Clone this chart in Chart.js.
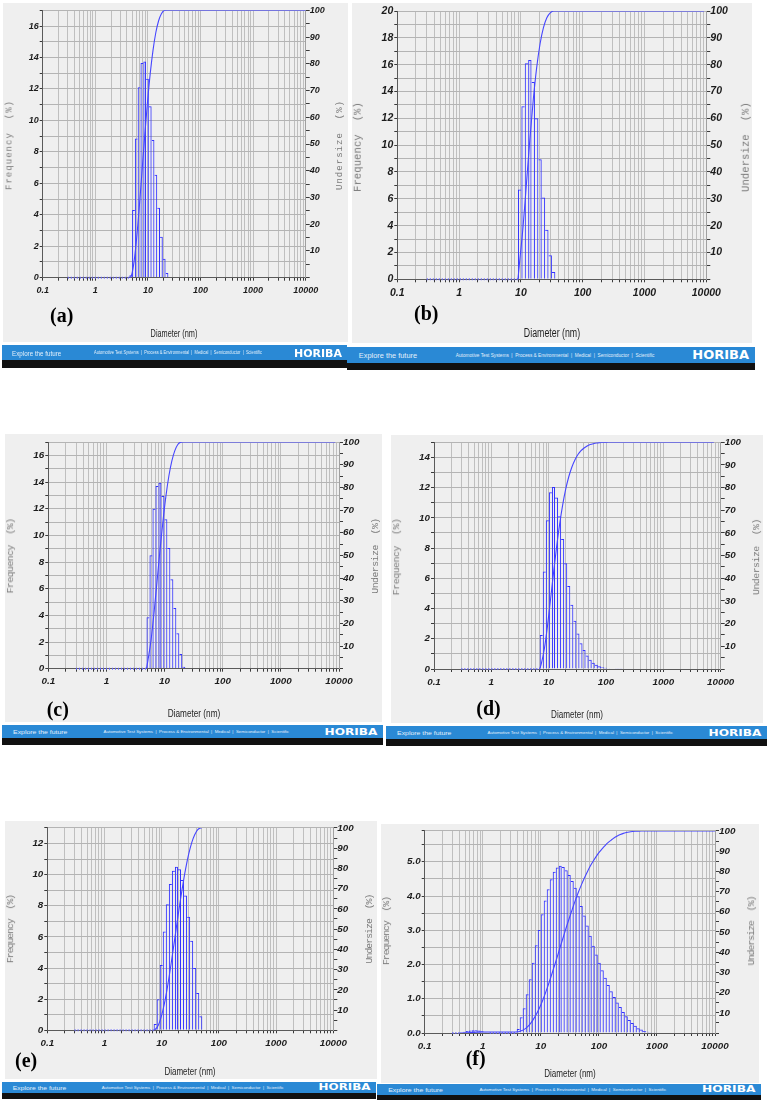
<!DOCTYPE html>
<html>
<head>
<meta charset="utf-8">
<title>Particle size distributions (a)-(f)</title>
<script src="https://cdn.jsdelivr.net/npm/chart.js@4.4.1/dist/chart.umd.min.js"></script>
<style>
  html, body { margin: 0; padding: 0; background: #fff; }
  body { position: relative; width: 768px; height: 1101px; overflow: hidden; }
  .panel { position: absolute; background: #efefef; }
  .panel canvas { position: absolute; left: 0; top: 0; }
  .txt { position: absolute; white-space: pre; line-height: 1; }
  .ytitle { font-family: "Liberation Mono", "DejaVu Sans Mono", monospace; color: #7a7a7a; }
  .xtitle { font-family: "Liberation Sans Narrow", "Liberation Sans", sans-serif; color: #1e1e1e; }
  .tag { font-family: "Liberation Serif", "Times New Roman", serif; font-weight: bold; color: #000; font-size: 20px; }
  .foot { position: absolute; background: #111; overflow: hidden; }
  .band { position: absolute; left: 0; top: 0; width: 345px; height: 15px; background: #2a89d5; transform-origin: 0 0; }
  .band span { position: absolute; top: 50%; white-space: pre; line-height: 1; color: #fff; transform-origin: 0 50%; }
  .explore { left: 10px; font: 7px "Liberation Sans", sans-serif; color: #e4f0fb !important; }
  .lines { left: 92px; font: 8.8px "Liberation Sans", sans-serif; color: #e4f0fb !important; }
  .brand { left: 292px; font: bold 11px "DejaVu Sans", sans-serif; }
</style>
</head>
<body>
<script>
// log-scale ticks: decades get a label, 2..9 are grid only
const xLabels = [0.1, 1, 10, 100, 1000, 10000];
const underLabels = [10, 20, 30, 40, 50, 60, 70, 80, 90, 100];

// (a)
const diamA = [4.71, 5.32, 6.01, 6.80, 7.68, 8.68, 9.81, 11.08, 12.52, 14.15, 15.99, 18.07, 20.42, 23.07];
const freqA = [0.15, 4.3, 8.85, 12.1, 13.65, 13.75, 12.65, 10.9, 8.75, 6.55, 4.45, 2.6, 1.2, 0.3];
const underA = [0.2, 4.5, 13.3, 25.4, 39.0, 52.8, 65.5, 76.4, 85.1, 91.7, 96.1, 98.7, 99.9, 100];
const curveEndsA = [4.43, 10000];
const baseA = [[0.3, 4.43]];
const freqTicksA = [0, 2, 4, 6, 8, 10, 12, 14, 16];

// (b)
const diamB = [9.55, 10.84, 12.30, 13.96, 15.84, 17.98, 20.40, 23.16, 26.28, 29.82, 33.85];
const freqB = [6.7, 12.9, 16.1, 16.35, 14.7, 12.0, 8.95, 6.1, 3.7, 1.8, 0.55];
const underB = [6.7, 19.6, 35.7, 52.1, 66.8, 78.8, 87.7, 93.8, 97.5, 99.3, 100];
const curveEndsB = [8.96, 9200];
const baseB = [[0.3, 8.96]];
const freqTicksB = [0, 2, 4, 6, 8, 10, 12, 14, 16, 18, 20];

// (c)
const diamC = [5.18, 5.83, 6.56, 7.39, 8.31, 9.36, 10.53, 11.85, 13.34, 15.01, 16.90, 19.02, 21.40];
const freqC = [3.85, 8.5, 12.0, 13.7, 13.95, 12.95, 11.2, 9.05, 6.7, 4.55, 2.65, 1.1, 0.15];
const underC = [3.8, 12.3, 24.3, 38.0, 51.9, 64.8, 76.0, 85.0, 91.7, 96.2, 98.9, 99.9, 100];
const curveEndsC = [4.88, 8600];
const baseC = [[0.3, 4.88]];
const freqTicksC = [0, 2, 4, 6, 8, 10, 12, 14, 16];

// (d)
const diamD = [7.41, 8.38, 9.48, 10.72, 12.12, 13.70, 15.49, 17.52, 19.81, 22.40, 25.33, 28.65, 32.39, 36.63,
  41.42, 46.84, 52.97, 59.90, 67.73, 76.59, 86.61, 97.93, 110.7, 125.2, 141.6, 160.1, 181.1];
const freqD = [2.25, 6.45, 9.85, 11.7, 12.05, 11.35, 10.1, 8.6, 7.0, 5.5, 4.25, 3.2, 2.35, 1.7,
  1.25, 0.9, 0.62, 0.42, 0.28, 0.19, 0.12, 0.08, 0.05, 0.03, 0.02, 0.01, 0.01];
const underD = [2.2, 8.7, 18.5, 30.2, 42.2, 53.6, 63.7, 72.3, 79.3, 84.8, 89.0, 92.2, 94.6, 96.3,
  97.5, 98.4, 99.0, 99.4, 99.7, 99.85, 99.9, 99.95, 100, 100, 100, 100, 100];
const curveEndsD = [6.97, 7600];
const baseD = [[0.3, 6.97]];
const freqTicksD = [0, 2, 4, 6, 8, 10, 12, 14];

// (e)
const diamE = [7.68, 8.68, 9.81, 11.09, 12.54, 14.17, 16.02, 18.10, 20.46, 23.13, 26.14, 29.55, 33.40, 37.75, 42.67, 48.23];
const freqE = [0.4, 2.0, 4.2, 6.35, 8.1, 9.4, 10.25, 10.5, 10.35, 9.65, 8.65, 7.3, 5.75, 4.0, 2.4, 0.9];
const underE = [0.4, 2.4, 6.6, 12.9, 21.0, 30.4, 40.6, 51.1, 61.4, 71.0, 79.6, 86.9, 92.6, 96.6, 99.1, 100];
const curveEndsE = [7.22, 50];
const baseE = [[0.3, 7.22]];
const freqTicksE = [0, 2, 4, 6, 8, 10, 12];

// (f) small population near 1 nm, empty bins, then the main mode
const diamF = [0.425, 0.479, 0.539, 0.607, 0.684, 0.771, 0.868, 0.978, 1.101, 1.241,
  1.398, 1.575, 1.774, 1.999, 2.251, 2.536, 2.857, 3.218, 3.625,
  4.076, 4.592, 5.173, 5.827, 6.564, 7.395, 8.330, 9.384, 10.57, 11.91,
  13.41, 15.11, 17.02, 19.18, 21.60, 24.34, 27.41, 30.88, 34.79, 39.19,
  44.15, 49.73, 56.02, 63.11, 71.09, 80.08, 90.22, 101.6, 114.5, 129.0,
  145.3, 163.7, 184.4, 207.7, 234.0, 263.6, 296.9, 334.5, 376.8, 424.4,
  478.1, 538.6, 606.7, 683.5, 770.0, 867.4];
const freqF = [0.02, 0.04, 0.06, 0.07, 0.08, 0.08, 0.07, 0.05, 0.03, 0.02,
  0, 0, 0, 0, 0, 0, 0, 0, 0,
  0.12, 0.46, 0.72, 1.13, 1.57, 2.05, 2.56, 3.01, 3.47, 3.87,
  4.2, 4.49, 4.71, 4.83, 4.88, 4.85, 4.75, 4.61, 4.44, 4.24,
  3.99, 3.71, 3.43, 3.14, 2.84, 2.55, 2.29, 2.05, 1.83, 1.61,
  1.40, 1.22, 1.05, 0.89, 0.76, 0.61, 0.49, 0.38, 0.29, 0.21,
  0.14, 0.10, 0.06, 0.04, 0.02, 0.01];
const underF = [0.02, 0.06, 0.12, 0.19, 0.27, 0.35, 0.42, 0.47, 0.5, 0.52,
  0.52, 0.52, 0.52, 0.52, 0.52, 0.52, 0.52, 0.52, 0.52,
  0.6, 1.1, 1.8, 2.9, 4.5, 6.6, 9.1, 12.1, 15.6, 19.5,
  23.7, 28.2, 32.9, 37.7, 42.6, 47.4, 52.2, 56.8, 61.2, 65.5,
  69.5, 73.2, 76.6, 79.7, 82.6, 85.1, 87.4, 89.5, 91.3, 92.9,
  94.3, 95.5, 96.6, 97.5, 98.2, 98.8, 99.2, 99.5, 99.7, 99.85,
  99.9, 99.95, 100, 100, 100, 100];
const curveEndsF = [0.40, 10000];
const baseF = [[0.3, 0.40], [1.32, 3.84]];
const freqTicksF = [0, 1, 2, 3, 4, 5];

const panels = [
  { tag: '(a)', box: [3, 3, 345, 339], plot: [42.7, 10.3, 305.7, 277.7], s: 1.0,
    yMax: 17, yStep: 1, yLabels: freqTicksA, dec: false,
    diam: diamA, freq: freqA, under: underA, ends: curveEndsA, base: baseA,
    fTitle: [9.5, 145, 90], uTitle: [340, 145, 90], xTitle: [174.2, 333, 46.7], tagPos: [50, 315],
    foot: [2, 345, 345, 15, 8] },
  { tag: '(b)', box: [352, 3, 400, 340], plot: [397.3, 11, 706.3, 279.3], s: 1.17,
    yMax: 20, yStep: 1, yLabels: freqTicksB, dec: false,
    diam: diamB, freq: freqB, under: underB, ends: curveEndsB, base: baseB,
    fTitle: [358.3, 147, 90], uTitle: [745.7, 147, 90], xTitle: [551.8, 333.3, 56], tagPos: [414, 313.3],
    foot: [347, 347, 408, 16, 7] },
  { tag: '(c)', box: [5, 434, 377, 288], plot: [48.3, 442, 339, 668.7], s: 1.1,
    yMax: 17, yStep: 1, yLabels: freqTicksC, dec: false,
    diam: diamC, freq: freqC, under: underC, ends: curveEndsC, base: baseC,
    fTitle: [11, 556, 75], uTitle: [375.7, 556, 75.7], xTitle: [193.7, 714.3, 52.7], tagPos: [46.7, 709.3],
    foot: [2, 725, 381, 13, 7] },
  { tag: '(d)', box: [391, 435, 372, 288], plot: [434, 442.3, 720.7, 669], s: 1.09,
    yMax: 15, yStep: 1, yLabels: freqTicksD, dec: false,
    diam: diamD, freq: freqD, under: underD, ends: curveEndsD, base: baseD,
    fTitle: [396.7, 556.7, 76.7], uTitle: [757.3, 556.7, 76], xTitle: [577.3, 715, 51.7], tagPos: [476.3, 708.3],
    foot: [386, 726, 381, 13, 7] },
  { tag: '(e)', box: [5, 821, 372, 258], plot: [47.3, 827.3, 333.3, 1030.3], s: 1.09,
    yMax: 13, yStep: 1, yLabels: freqTicksE, dec: false,
    diam: diamE, freq: freqE, under: underE, ends: curveEndsE, base: baseE,
    fTitle: [11, 929, 68.3], uTitle: [370, 929, 69], xTitle: [190.3, 1072.3, 51], tagPos: [15, 1060],
    foot: [2, 1082, 374, 11, 6] },
  { tag: '(f)', box: [381, 824, 378, 259], plot: [424.7, 828.3, 715, 1033], s: 1.1,
    yMax: 5.9, yStep: 0.5, yLabels: freqTicksF, dec: true,
    diam: diamF, freq: freqF, under: underF, ends: curveEndsF, base: baseF,
    fTitle: [387.3, 931, 68.3], uTitle: [752.3, 931, 69], xTitle: [569.9, 1074.3, 51.7], tagPos: [465.7, 1058.3],
    foot: [377, 1084, 384, 11, 5] }
];

// every 1..9 x decade gets a grid line
const xTicks = [];
xLabels.slice(0, -1).forEach(d => {
  for (let m = 1; m <= 9; m++) xTicks.push(+(m * d).toPrecision(4));
});
xTicks.push(10000);

const BLUE = '#3232ff';
const TICK_COLOR = '#1c1c1c';

function addText(cls, text, css) {
  const el = document.createElement('div');
  el.className = 'txt ' + cls;
  el.textContent = text;
  Object.assign(el.style, css);
  document.body.appendChild(el);
  return el;
}

function rotatedTitle(text, pos, s) {
  const f = 9 * s;
  const ls = pos[2] / text.length - 0.6 * f;
  const el = addText('ytitle', text, {
    left: pos[0] + 'px', top: pos[1] + 'px', fontSize: f + 'px', letterSpacing: ls + 'px'
  });
  el.style.transform = 'translate(-50%,-50%) rotate(-90deg)';
}

function addFooter(p) {
  const [fx, fy, fw, bandH, blackH] = p.foot;
  const foot = document.createElement('div');
  foot.className = 'foot';
  Object.assign(foot.style, { left: fx + 'px', top: fy + 'px', width: fw + 'px', height: (bandH + blackH) + 'px' });
  const band = document.createElement('div');
  band.className = 'band';
  band.style.transform = `scale(${fw / 345}, ${bandH / 15})`;
  foot.appendChild(band);
  document.body.appendChild(foot);

  const mk = (cls, text) => {
    const sp = document.createElement('span');
    sp.className = cls;
    sp.textContent = text;
    band.appendChild(sp);
    return sp;
  };
  const ex = mk('explore', 'Explore the future');
  ex.style.transform = `translateY(-50%) scaleX(${49 / ex.offsetWidth})`;
  const ln = mk('lines', 'Automotive Test Systems  |  Process & Environmental  |  Medical  |  Semiconductor  |  Scientific');
  ln.style.transform = `translateY(-50%) scale(${168 / ln.offsetWidth}, 0.55)`;
  const br = mk('brand', 'HORIBA');
  br.style.transform = `translateY(-50%) scaleX(${48 / br.offsetWidth})`;
}

function buildPanel(p) {
  const [bx, by, bw, bh] = p.box;
  const [pl, pt, pr, pb] = p.plot;

  const div = document.createElement('div');
  div.className = 'panel';
  Object.assign(div.style, { left: bx + 'px', top: by + 'px', width: bw + 'px', height: bh + 'px' });
  const cv = document.createElement('canvas');
  cv.width = bw;
  cv.height = bh;
  div.appendChild(cv);
  document.body.appendChild(div);

  const bars = p.diam.map((d, i) => ({ x: d, y: p.freq[i] }));
  const curve = [{ x: p.ends[0], y: 0 }].concat(p.diam.map((d, i) => ({ x: d, y: p.under[i] })));
  curve.push({ x: p.ends[1], y: 100 });
  const base = [];
  p.base.forEach(seg => {
    base.push({ x: seg[0], y: 0 }, { x: seg[1], y: 0 }, { x: seg[1], y: null });
  });

  // neighbouring bars share one edge line: the taller bar draws it
  const edgeWidths = ctx => {
    const i = ctx.dataIndex;
    if (i === undefined) return 1;
    const f = p.freq;
    const prev = i > 0 ? f[i - 1] : 0;
    const next = i < f.length - 1 ? f[i + 1] : 0;
    return { top: 1, bottom: 0, left: prev >= f[i] ? 0 : 1, right: next > f[i] ? 0 : 1 };
  };

  const tickFont = {
    family: '"Liberation Sans Narrow", "Liberation Sans", sans-serif',
    size: 9 * p.s, style: 'italic', weight: 'bold'
  };

  new Chart(cv, {
    type: 'bar',
    data: {
      datasets: [
        {
          type: 'line', data: curve, yAxisID: 'y2',
          borderColor: '#4646ff', borderWidth: 1.1, pointRadius: 0, fill: false,
          cubicInterpolationMode: 'monotone', order: 0
        },
        {
          type: 'line', data: base, yAxisID: 'y',
          borderColor: '#6464ff', borderWidth: 2, borderDash: [1, 2], pointRadius: 0,
          spanGaps: false, fill: false, clip: 2, order: 1
        },
        {
          type: 'bar', data: bars, yAxisID: 'y',
          barThickness: 'flex', categoryPercentage: 1, barPercentage: 1,
          backgroundColor: 'rgba(0,0,0,0)', borderColor: BLUE, borderWidth: edgeWidths,
          borderSkipped: false, inflateAmount: 0, order: 2
        }
      ]
    },
    options: {
      responsive: false,
      animation: false,
      devicePixelRatio: 1,
      layout: { padding: { top: pt - by, left: 0, right: 0, bottom: 0 } },
      plugins: { legend: { display: false }, tooltip: { enabled: false } },
      scales: {
        x: {
          type: 'logarithmic', min: 0.1, max: 10000, offset: false,
          grid: { offset: false, color: '#bfbfbf', tickColor: '#3a3a3a', tickLength: 3 },
          border: { color: '#5a5a5a' },
          ticks: {
            autoSkip: false, maxRotation: 0, minRotation: 0, padding: 4,
            color: TICK_COLOR, font: tickFont,
            callback: v => xLabels.includes(v) ? String(v) : ''
          },
          afterBuildTicks: sc => { sc.ticks = xTicks.map(v => ({ value: v })); },
          afterFit: sc => { sc.height = by + bh - pb; }
        },
        y: {
          position: 'left', min: 0, max: p.yMax,
          grid: { color: '#b4b4b4', tickColor: '#3a3a3a', tickLength: 3 },
          border: { color: '#5a5a5a' },
          ticks: {
            autoSkip: false, padding: 1, color: TICK_COLOR, font: tickFont,
            callback: v => p.yLabels.includes(v) ? (p.dec ? v.toFixed(1) : String(v)) : ''
          },
          afterBuildTicks: sc => {
            const t = [];
            for (let v = 0; v < p.yMax - 1e-6; v += p.yStep) t.push({ value: +v.toFixed(3) });
            t.push({ value: p.yMax });
            sc.ticks = t;
          },
          afterFit: sc => { sc.width = pl - bx; }
        },
        y2: {
          position: 'right', min: 0, max: 100,
          grid: { drawOnChartArea: false, tickColor: '#3a3a3a', tickLength: 4 },
          border: { color: '#a0a0a0' },
          ticks: {
            stepSize: 5, autoSkip: false, padding: 0, color: TICK_COLOR, font: tickFont,
            callback: v => underLabels.includes(v) ? String(v) : ''
          },
          afterFit: sc => { sc.width = bx + bw - pr; }
        }
      }
    }
  });

  // titles and panel tag as page text
  rotatedTitle('Frequency  (%)', p.fTitle, p.s);
  rotatedTitle('Undersize  (%)', p.uTitle, p.s);
  const xt = addText('xtitle', 'Diameter (nm)', {
    left: p.xTitle[0] + 'px', top: p.xTitle[1] + 'px', fontSize: (10.5 * p.s) + 'px'
  });
  xt.style.transform = `translate(-50%,-50%) scaleX(${p.xTitle[2] / xt.offsetWidth})`;
  const tg = addText('tag', p.tag, { left: p.tagPos[0] + 'px', top: p.tagPos[1] + 'px' });
  tg.style.transform = 'translateY(-50%)';

  addFooter(p);
}

panels.forEach(buildPanel);
</script>
</body>
</html>
